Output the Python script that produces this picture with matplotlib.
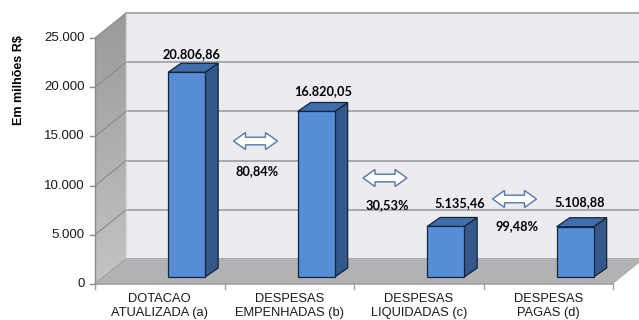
# -*- coding: utf-8 -*-
"""Execução orçamentária - gráfico de colunas 3D (estilo Excel)"""

import numpy as np
import matplotlib
matplotlib.use("Agg")
import matplotlib.pyplot as plt
from matplotlib.patches import Polygon

# dados
categories = ['DOTACAO\nATUALIZADA (a)', 'DESPESAS\nEMPENHADAS (b)',
              'DESPESAS\nLIQUIDADAS (c)', 'DESPESAS\nPAGAS (d)']
values = [20806.86, 16820.05, 5135.46, 5108.88]
value_labels = ['20.806,86', '16.820,05', '5.135,46', '5.108,88']
ratio_labels = ['80,84%', '30,53%', '99,48%']
yticks = [0, 5000, 10000, 15000, 20000, 25000]
ytick_labels = ['0', '5.000', '10.000', '15.000', '20.000', '25.000']
ylabel = 'Em milhões R$'

# layout (pixels -> unidades de dados)
W, H = 639, 320
X0, Y0 = 95, 284          # origem do plano frontal em pixels
CW = 129.5                # pixels por categoria
VS = 0.00984              # pixels por unidade de valor
YMAX = 25000


def px(d):
    return d / CW


def pv(d):
    return d / VS


DX, DY = px(31), pv(25)          # profundidade das paredes
BAR_OFF, BW = 0.565, px(37)       # posição/largura da face frontal
BAR_LIFT = pv(7)
BDX, BDY = px(13), pv(9)          # profundidade das barras

arrow_levels = [14530, 10770, 8640]
ratio_levels = [11480, 8030, 5900]
label_dx = [0, 2, 9, 0]
label_dy = [-2, 0, 3, 5]

plt.rcParams['font.family'] = ['Liberation Sans', 'DejaVu Sans']

fig = plt.figure(figsize=(W / 100, H / 100), dpi=100)
ax = fig.add_axes([0, 0, 1, 1])
ax.set_xlim(-X0 / CW, (W - X0) / CW)
ax.set_ylim(-(H - Y0) / VS, Y0 / VS)
ax.axis('off')

# parede do fundo
back = Polygon([(DX, DY), (4.5, DY), (4.5, YMAX + DY), (DX, YMAX + DY)],
               closed=True, fc='#ecebf0', ec='none', zorder=0)
ax.add_patch(back)
for t in yticks:
    ax.plot([DX, 4.5], [t + DY, t + DY], color='#a3a3a3', lw=1.3, zorder=1)
ax.plot([DX, DX], [DY, YMAX + DY], color='#d8d8d8', lw=1, zorder=2)

# parede lateral (gradiente)
side = Polygon([(0, 0), (DX, DY), (DX, YMAX + DY), (0, YMAX)],
               closed=True, fc='none', ec='none', zorder=1)
ax.add_patch(side)
grad = np.linspace(0, 1, 100).reshape(-1, 1)
im = ax.imshow(grad, cmap=matplotlib.colors.LinearSegmentedColormap.from_list(
    'g', ['#c4c4c4', '#9a999c']), extent=(0, DX, 0, YMAX + DY),
    origin='lower', aspect='auto', zorder=1)
im.set_clip_path(side)
for t in yticks:
    ax.plot([0, DX], [t, t + DY], color='#8a8a8a', lw=0.8, zorder=2)

# piso
floor = Polygon([(0, 0), (4, 0), (4 + DX, DY), (DX, DY)],
                closed=True, fc='#b4b1b5', ec='none', zorder=2)
ax.add_patch(floor)

# eixos
ax.plot([0, 0], [0, YMAX], color='#8c8c8c', lw=1, zorder=3)
ax.plot([0, 4], [0, 0], color='#a0a0a0', lw=1.2, zorder=3)
for t, lab in zip(yticks, ytick_labels):
    ax.plot([-px(5), 0], [t, t], color='#8c8c8c', lw=1, zorder=3)
    ax.text(-px(10), t, lab, ha='right', va='center', fontsize=9.5,
            color='#1a1a1a')
for i in range(5):
    ax.plot([i, i], [0, -pv(5)], color='#a0a0a0', lw=1, zorder=3)
for i, cat in enumerate(categories):
    ax.text(i + 0.5, -pv(9), cat, ha='center', va='top', fontsize=9.3,
            color='#1a1a1a', linespacing=1.25)

ax.text(-px(76), pv(Y0 - 80), ylabel, rotation=90, ha='center',
        va='center', fontsize=9, fontweight='bold')

# barras 3D
for i, v in enumerate(values):
    l = i + BAR_OFF
    r = l + BW
    b = BAR_LIFT
    t = BAR_LIFT + v
    sidef = Polygon([(r, b), (r + BDX, b + BDY), (r + BDX, t + BDY), (r, t)],
                    closed=True, fc='#32598a', ec='#14243a', lw=0.9, zorder=5)
    top = Polygon([(l, t), (r, t), (r + BDX, t + BDY), (l + BDX, t + BDY)],
                  closed=True, fc='#3f6eaa', ec='#14243a', lw=0.9, zorder=5)
    front = Polygon([(l, b), (r, b), (r, t), (l, t)],
                    closed=True, fc='#578dd6', ec='#14243a', lw=0.9, zorder=6)
    for p in (sidef, top, front):
        ax.add_patch(p)
    ax.text(l + BW / 2 + px(5 + label_dx[i]), t + pv(20 + label_dy[i]),
            value_labels[i], ha='center', va='center', fontsize=9.2,
            fontweight='bold', family=['Lato', 'DejaVu Sans'], zorder=7)

# setas duplas entre barras
L, HL, HH, SH = 22, 12, 8.5, 3.8
shape = [(-L, 0), (-L + HL, HH), (-L + HL, SH), (L - HL, SH), (L - HL, HH),
         (L, 0), (L - HL, -HH), (L - HL, -SH), (-L + HL, -SH), (-L + HL, -HH)]
for k, (lev, rl, rlev) in enumerate(zip(arrow_levels, ratio_labels, ratio_levels)):
    cx = k + 1 + DX
    pts = [(cx + px(a), lev + pv(b)) for a, b in shape]
    ax.add_patch(Polygon(pts, closed=True, fc='white', ec='#5576a8',
                         lw=1.0, zorder=7))
    ax.text(cx + px(2), rlev, rl, ha='center', va='center', fontsize=9.2,
            fontweight='bold', family=['Lato', 'DejaVu Sans'], zorder=7)

fig.savefig('out.png', dpi=100)
plt.close(fig)
